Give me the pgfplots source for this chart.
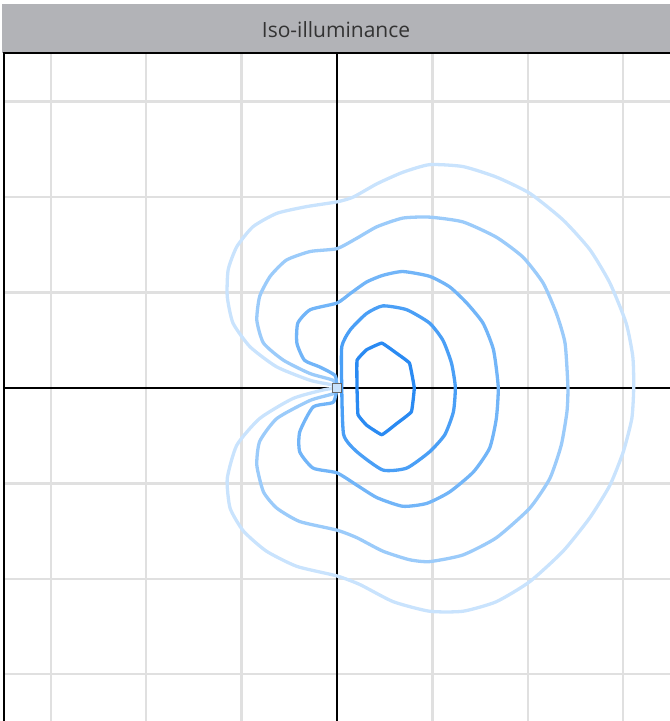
\documentclass[border=0pt]{standalone}
\usepackage{fontspec}
\setmainfont{Open Sans}
\usepackage{pgfplots}
\pgfplotsset{compat=1.18}
\definecolor{cA}{HTML}{2A8AF2}
\definecolor{cB}{HTML}{4A9FF6}
\definecolor{cC}{HTML}{72B5F8}
\definecolor{cD}{HTML}{9BCBFA}
\definecolor{cE}{HTML}{C9E3FD}
\definecolor{gridgray}{HTML}{E0E0E0}
\definecolor{titlegray}{HTML}{B2B3B7}
\definecolor{titletext}{HTML}{333333}
\tikzset{iso/.style={line width=3.3pt, line join=round, line cap=round, smooth, tension=0.35}}
\begin{document}
\begin{tikzpicture}
\useasboundingbox (-3pt,0pt) rectangle (667pt,721pt);
\begin{axis}[
  name=ax, at={(0,0)}, anchor=south west,
  width=667pt, height=668pt, scale only axis,
  xmin=-3.5, xmax=3.49, ymin=-3.49, ymax=3.51,
  xtick={-3,-2,-1,1,2,3}, ytick={-3,-2,-1,1,2,3},
  xticklabels={}, yticklabels={},
  major tick length=0pt,
  grid=major, grid style={line width=2.4pt, color=gridgray},
  extra x ticks={0}, extra y ticks={0},
  extra x tick labels={}, extra y tick labels={},
  extra tick style={grid style={black, line width=1.9pt}, major tick length=0pt},
  axis line style={draw=none},
]
% outermost
\addplot[cE, iso] coordinates {
(0,0) (-0.04,0.03) (-0.28,0.08) (-0.63,0.22) (-0.91,0.43) (-1.09,0.68) (-1.15,0.96)
(-1.14,1.24) (-1.05,1.48) (-0.88,1.69) (-0.63,1.83) (-0.32,1.90) (0.00,1.95) (0.17,2.00)
(0.42,2.14) (0.69,2.26) (0.97,2.34) (1.32,2.32) (1.67,2.21) (2.02,2.04) (2.37,1.76)
(2.65,1.45) (2.86,1.10) (3.03,0.68) (3.10,0.33) (3.11,0.01)
(3.09,-0.32) (3.00,-0.67) (2.86,-1.02) (2.65,-1.36) (2.37,-1.71) (2.02,-2.03) (1.67,-2.24)
(1.32,-2.34) (0.97,-2.34) (0.59,-2.24) (0.24,-2.06) (0.00,-1.97) (-0.42,-1.87) (-0.74,-1.71)
(-0.98,-1.50) (-1.12,-1.26) (-1.15,-0.95) (-1.05,-0.60) (-0.81,-0.32) (-0.46,-0.11)
(-0.14,-0.02) (0,0)};
% fourth
\addplot[cD, iso] coordinates {
(0,0) (-0.04,0.08) (-0.28,0.15) (-0.56,0.29) (-0.77,0.47) (-0.84,0.71) (-0.81,0.96)
(-0.70,1.17) (-0.53,1.34) (-0.28,1.43) (0.00,1.46) (0.21,1.57) (0.42,1.69) (0.69,1.78)
(0.97,1.79) (1.32,1.74) (1.67,1.58) (1.95,1.37) (2.16,1.10) (2.30,0.78) (2.39,0.47) (2.42,0.01)
(2.41,-0.25) (2.35,-0.60) (2.23,-0.95) (2.02,-1.26) (1.67,-1.57) (1.32,-1.75) (0.97,-1.82)
(0.76,-1.80) (0.48,-1.71) (0.21,-1.57) (0.00,-1.49) (-0.39,-1.40) (-0.63,-1.26) (-0.77,-1.09)
(-0.84,-0.81) (-0.81,-0.56) (-0.63,-0.32) (-0.28,-0.13) (-0.04,-0.06) (0,0)};
% third
\addplot[cC, iso] coordinates {
(0,0) (-0.02,0.13) (-0.18,0.22) (-0.34,0.29) (-0.42,0.47) (-0.41,0.68) (-0.28,0.82)
(0.00,0.89) (0.14,0.99) (0.31,1.11) (0.48,1.18) (0.69,1.22) (0.97,1.17) (1.18,1.06)
(1.36,0.89) (1.53,0.68) (1.64,0.40) (1.69,0.01)
(1.67,-0.32) (1.60,-0.63) (1.43,-0.88) (1.18,-1.09) (0.94,-1.21) (0.69,-1.24) (0.42,-1.15)
(0.21,-1.02) (0.00,-0.89) (-0.25,-0.84) (-0.39,-0.67) (-0.39,-0.46) (-0.25,-0.20)
(-0.04,-0.15) (0,0)};
% second
\addplot[cB, iso] coordinates {
(0.05,0.01) (0.05,0.43) (0.14,0.61) (0.31,0.78) (0.48,0.86) (0.73,0.82) (0.97,0.68)
(1.11,0.50) (1.20,0.26) (1.24,0.01) (1.22,-0.25) (1.13,-0.49) (0.97,-0.67) (0.73,-0.84)
(0.48,-0.86) (0.21,-0.67) (0.07,-0.49) (0.05,0.01)};
% innermost
\addplot[cA, iso, tension=0.15] coordinates {
(0.21,0) (0.21,0.29) (0.31,0.40) (0.47,0.47) (0.63,0.36) (0.76,0.26) (0.81,0)
(0.78,-0.25) (0.63,-0.37) (0.47,-0.49) (0.31,-0.39) (0.22,-0.28) (0.21,0)};
% luminaire
\addplot[only marks, mark=square*, mark size=4.8pt,
  mark options={draw=black!60, fill=cE, line width=1.2pt}] coordinates {(0,0)};
\end{axis}
\fill[titlegray] (-1pt,668pt) rectangle (667pt,717pt);
\draw[black, line width=1.6pt] (0.8pt,0pt) -- (0.8pt,668pt) -- (667pt,668pt);
\node[text=titletext, font=\fontsize{21}{24}\selectfont] at (333pt,691.5pt) {Iso-illuminance};
\end{tikzpicture}
\end{document}
